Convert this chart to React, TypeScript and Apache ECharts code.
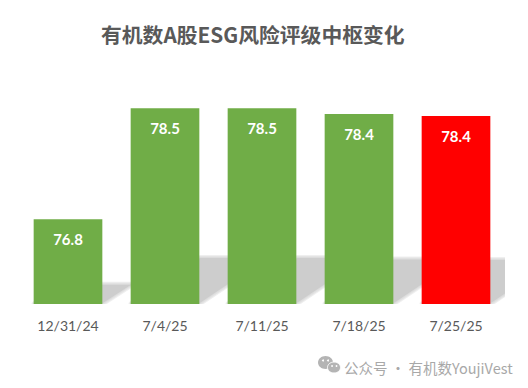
import React, { useEffect, useRef } from "react";
import * as echarts from "echarts";

const categories = ["12/31/24", "7/4/25", "7/11/25", "7/18/25", "7/25/25"];
const greenValues = [76.8, 78.5, 78.5, 78.41, null];
const redValues = [null, null, null, null, 78.38];
const allValues = [76.8, 78.5, 78.5, 78.41, 78.38];
const titleText = "有机数A股ESG风险评级中枢变化";
const watermarkText = "公众号 · 有机数YoujiVest";

const SHADOW_H = 0.24;
const SHADOW_DX = 0.35;
const BAR_RATIO = 0.708;
const BLUR_WIDTHS = [6, 4, 2];

export default function App() {
  const ref = useRef<HTMLDivElement>(null);
  useEffect(() => {
    document.body.style.margin = "0";
    const chart = echarts.init(ref.current!, null, { renderer: "svg" });
    const label = {
      show: true,
      position: "insideTop" as const,
      distance: 12,
      color: "#fff",
      fontFamily: "Lato",
      fontWeight: "bold" as const,
      fontSize: 15,
      formatter: (p: any) => Number(p.value).toFixed(1),
    };
    chart.setOption({
      animation: false,
      backgroundColor: "#fff",
      title: {
        text: titleText,
        left: 101,
        top: 24,
        padding: 0,
        textStyle: { color: "#595959", fontSize: 20.8, fontWeight: "bold", fontFamily: "Noto Sans CJK SC" },
      },
      grid: { left: 19.5, top: 43, width: 485, height: 261 },
      xAxis: {
        type: "category",
        data: categories,
        axisLine: { show: false },
        axisTick: { show: false },
        axisLabel: { color: "#595959", fontSize: 14, fontFamily: "Lato", margin: 14 },
      },
      yAxis: { type: "value", min: 75.5, max: 79.5, show: false, splitLine: { show: false } },
      series: [
        {
          type: "custom",
          z: 1,
          silent: true,
          clip: true,
          data: allValues.map((v, i) => [i, v]),
          encode: { x: 0, y: 1 },
          renderItem: (_p: any, api: any) => {
            const top = api.coord([api.value(0), api.value(1)]);
            const base = api.coord([api.value(0), 75.5]);
            const w = api.size([1, 0])[0] * BAR_RATIO;
            const barH = base[1] - top[1];
            const h = barH * SHADOW_H;
            const dx = barH * SHADOW_DX;
            const l = top[0] - w / 2;
            const r = top[0] + w / 2;
            const points = [
              [l + 1, base[1]],
              [r - 1, base[1]],
              [r + dx - 1, base[1] - h + 1],
              [l + dx + 1, base[1] - h + 1],
            ];
            return {
              type: "group",
              children: [
                ...BLUR_WIDTHS.map((lineWidth) => ({
                  type: "polygon",
                  shape: { points },
                  style: { fill: "none", stroke: "rgba(205,205,205,0.32)", lineWidth, lineJoin: "round" },
                })),
                { type: "polygon", shape: { points }, style: { fill: "#cdcdcd" } },
              ],
            };
          },
        },
        {
          type: "bar",
          z: 2,
          stack: "a",
          barWidth: "70.8%",
          data: greenValues,
          itemStyle: { color: "#70AD47" },
          label,
        },
        {
          type: "bar",
          z: 2,
          stack: "b",
          barWidth: "70.8%",
          barGap: "-100%",
          data: redValues,
          itemStyle: { color: "#FF0000" },
          label,
        },
      ],
      graphic: [
        { type: "ellipse", shape: { cx: 325.5, cy: 362.5, rx: 7.5, ry: 6.5 }, style: { fill: "#b4b4b4" } },
        { type: "ellipse", shape: { cx: 334, cy: 367.5, rx: 6.5, ry: 5.5 }, style: { fill: "#b4b4b4", stroke: "#fff", lineWidth: 1 } },
        { type: "circle", shape: { cx: 323, cy: 360.5, r: 1 }, style: { fill: "#fff" } },
        { type: "circle", shape: { cx: 328, cy: 360.5, r: 1 }, style: { fill: "#fff" } },
        { type: "circle", shape: { cx: 332, cy: 366, r: 0.9 }, style: { fill: "#fff" } },
        { type: "circle", shape: { cx: 336.5, cy: 366, r: 0.9 }, style: { fill: "#fff" } },
        {
          type: "text",
          x: 344,
          y: 367,
          style: {
            text: watermarkText,
            fill: "#a8a8a8",
            fontSize: 14.5,
            fontFamily: "Noto Sans CJK SC",
            textVerticalAlign: "middle",
          },
        },
      ],
    });
    return () => chart.dispose();
  }, []);
  return <div ref={ref} style={{ position: "fixed", left: 0, top: 0, width: 528, height: 388 }} />;
}
